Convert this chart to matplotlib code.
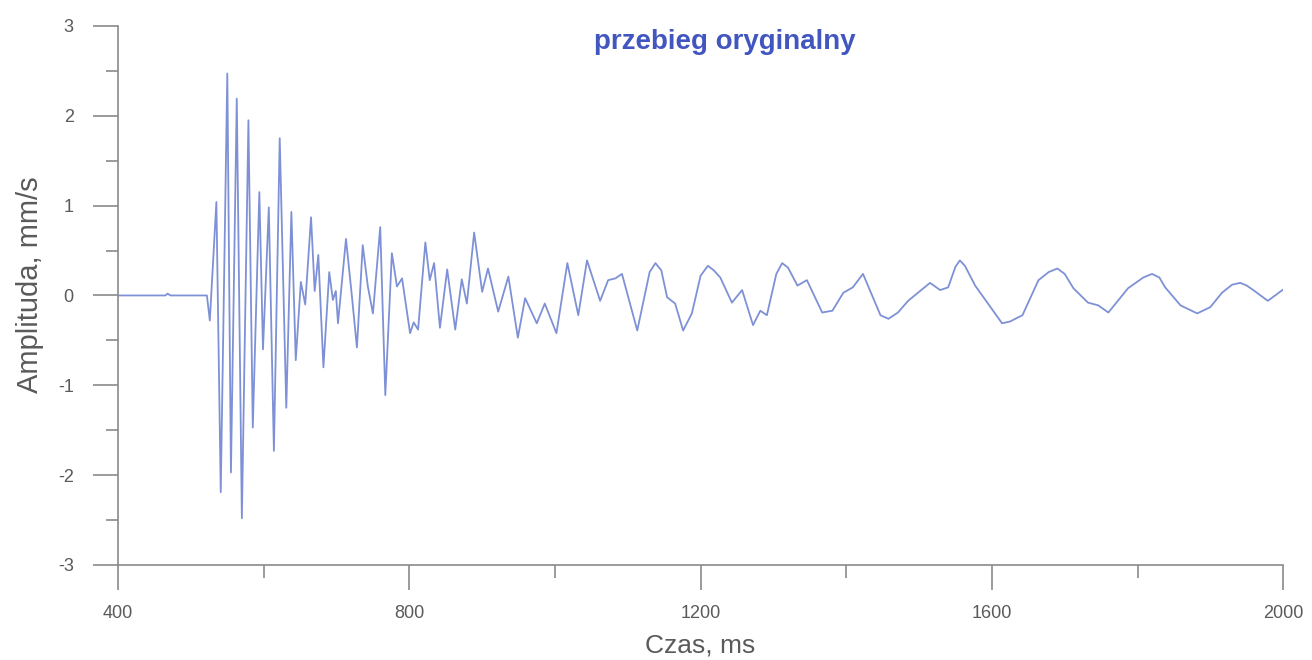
import numpy as np
import matplotlib
matplotlib.use('Agg')
import matplotlib.pyplot as plt
from matplotlib.ticker import MultipleLocator, FuncFormatter

# waveform (time in ms, amplitude in mm/s)
time_ms = [400, 465, 468, 472, 522, 526, 535, 541, 550, 555, 563, 570, 579, 585,
           594, 599, 607, 614, 622, 631, 638, 644, 651, 657, 665, 670, 675, 682,
           690, 695, 699, 702, 713, 721, 728, 736, 743, 750, 760, 767, 776, 783,
           790, 801, 806, 812, 822, 828, 834, 842, 852, 863, 872, 879, 889, 900,
           908, 922, 936, 949, 959, 975, 986, 1002, 1017, 1032, 1044, 1062, 1073,
           1083, 1092, 1113, 1130, 1138, 1146, 1154, 1165, 1176, 1188, 1200, 1210, 1218,
           1227, 1243, 1257, 1272, 1282, 1291, 1304, 1312, 1320, 1333, 1346, 1367, 1381,
           1396, 1409, 1423, 1447, 1458, 1471, 1485, 1515, 1529, 1540, 1550, 1556, 1563,
           1577, 1614, 1625, 1642, 1664, 1678, 1690, 1700, 1712, 1732, 1746, 1760, 1787,
           1808, 1820, 1830, 1838, 1859, 1882, 1900, 1916, 1930, 1941, 1950, 1959, 1979,
           1999]
amplitude = [0.0, 0.0, 0.02, 0.0, 0.0, -0.28, 1.04, -2.19, 2.47, -1.97, 2.19, -2.48, 1.95, -1.47,
             1.15, -0.6, 0.98, -1.73, 1.75, -1.25, 0.93, -0.72, 0.15, -0.1, 0.87, 0.05, 0.45, -0.8,
             0.26, -0.05, 0.05, -0.31, 0.63, 0.0, -0.58, 0.56, 0.1, -0.2, 0.76, -1.11, 0.47, 0.1,
             0.19, -0.42, -0.3, -0.38, 0.59, 0.17, 0.36, -0.36, 0.29, -0.38, 0.18, -0.09, 0.70, 0.04,
             0.30, -0.18, 0.21, -0.47, -0.03, -0.31, -0.09, -0.42, 0.36, -0.22, 0.39, -0.06, 0.17,
             0.19, 0.24, -0.39, 0.26, 0.36, 0.28, -0.02, -0.09, -0.39, -0.2, 0.22, 0.33, 0.28,
             0.2, -0.08, 0.06, -0.33, -0.17, -0.22, 0.24, 0.36, 0.31, 0.11, 0.17, -0.19, -0.17,
             0.03, 0.09, 0.24, -0.22, -0.26, -0.19, -0.06, 0.14, 0.06, 0.09, 0.32, 0.39, 0.33,
             0.11, -0.31, -0.29, -0.22, 0.17, 0.26, 0.30, 0.24, 0.08, -0.08, -0.11, -0.19, 0.08,
             0.2, 0.24, 0.2, 0.09, -0.11, -0.2, -0.13, 0.03, 0.12, 0.14, 0.11, 0.06, -0.06,
             0.06]

xticks = [400, 800, 1200, 1600, 2000]
yticks = [-3, -2, -1, 0, 1, 2, 3]

plt.rcParams['font.family'] = ['Liberation Sans', 'DejaVu Sans']
textcol = '#5a5a5a'
axcol = '#8a8a8a'

fig = plt.figure(figsize=(13.12, 6.6), dpi=100)
ax = fig.add_axes([0.09, 0.144, 0.888, 0.8167])

ax.plot(time_ms, amplitude, color='#7f91d6', lw=1.3)

ax.set_xlim(400, 2000)
ax.set_ylim(-3, 3)
ax.set_xticks(xticks)
ax.set_yticks(yticks)
ax.xaxis.set_minor_locator(MultipleLocator(200))
ax.yaxis.set_minor_locator(MultipleLocator(0.5))
# plain hyphen for negatives, like the original
ax.yaxis.set_major_formatter(FuncFormatter(lambda v, p: '%d' % v))

for side in ['top', 'right']:
    ax.spines[side].set_visible(False)
for side in ['left', 'bottom']:
    ax.spines[side].set_color(axcol)
    ax.spines[side].set_linewidth(1.2)

ax.tick_params(which='major', direction='out', length=18, width=1.2, color=axcol,
               labelsize=13, labelcolor=textcol)
ax.tick_params(axis='x', which='major', pad=11)
ax.tick_params(axis='y', which='major', pad=14)
ax.tick_params(which='minor', direction='out', length=9, width=1.2, color=axcol)

ax.set_xlabel('Czas, ms', fontsize=19, color=textcol, labelpad=8)
ax.set_ylabel('Amplituda, mm/s', fontsize=21, color=textcol)
ax.yaxis.set_label_coords(-0.064, 0.52)

ax.text(0.521, 0.97, 'przebieg oryginalny', transform=ax.transAxes, ha='center', va='center',
        fontsize=20, fontweight='bold', color='#4256c0')

fig.savefig('out.png', dpi=100, facecolor='white')
